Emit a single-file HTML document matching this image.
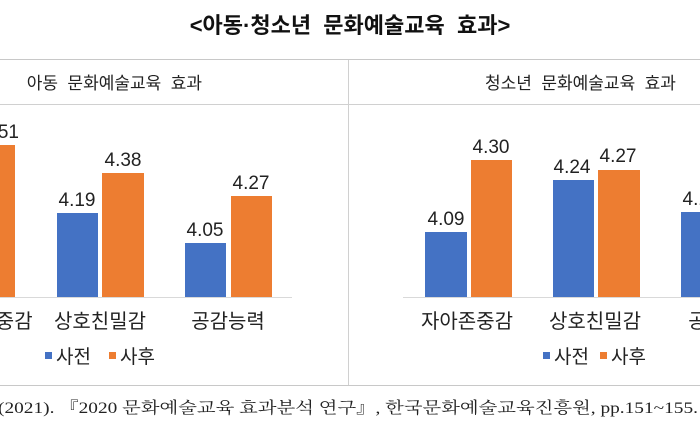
<!DOCTYPE html>
<html><head><meta charset="utf-8"><style>
html,body{margin:0;padding:0;background:#fff;}
svg{display:block;font-family:"Liberation Sans","Noto Sans CJK KR",sans-serif;}
</style></head><body>
<svg width="700" height="440" viewBox="0 0 700 440" xmlns="http://www.w3.org/2000/svg">
<rect width="700" height="440" fill="#fff"/>
<text x="350" y="33" text-anchor="middle" font-size="22" font-weight="bold" fill="#111" xml:space="preserve">&lt;아동·청소년  문화예술교육  효과&gt;</text>
<line x1="0" y1="59.5" x2="700" y2="59.5" stroke="#c8c8c8" stroke-width="1"/>
<line x1="0" y1="385.5" x2="700" y2="385.5" stroke="#c8c8c8" stroke-width="1"/>
<line x1="348.5" y1="60" x2="348.5" y2="385" stroke="#d0d0d0" stroke-width="1"/>
<line x1="0" y1="104.5" x2="348" y2="104.5" stroke="#d0d0d0"/>
<line x1="349" y1="104.5" x2="700" y2="104.5" stroke="#d0d0d0"/>
<!-- left panel -->
<text x="202" y="89" text-anchor="end" font-size="17" fill="#222" xml:space="preserve">아동  문화예술교육  효과</text>
<line x1="0" y1="297.5" x2="292" y2="297.5" stroke="#d9d9d9"/>
<rect x="0" y="145" width="15" height="152" fill="#ED7D31"/>
<text x="-18" y="138" font-size="19" fill="#222">4.51</text>
<rect x="57" y="213" width="41" height="84" fill="#4472C4"/>
<rect x="102" y="173" width="42" height="124" fill="#ED7D31"/>
<rect x="185" y="243" width="41" height="54" fill="#4472C4"/>
<rect x="231" y="196" width="41" height="101" fill="#ED7D31"/>
<g font-size="19" fill="#222" text-anchor="middle">
<text x="77" y="206">4.19</text><text x="123" y="166">4.38</text>
<text x="205" y="236">4.05</text><text x="251" y="189">4.27</text>
</g>
<g font-size="20" fill="#222" text-anchor="middle">
<text x="5" y="328">존중감</text>
<text x="100" y="328">상호친밀감</text>
<text x="228" y="328">공감능력</text>
</g>
<rect x="45" y="352" width="7" height="7" fill="#4472C4"/>
<text x="56" y="363" font-size="19" fill="#222">사전</text>
<rect x="109" y="352" width="7" height="7" fill="#ED7D31"/>
<text x="120" y="363" font-size="19" fill="#222">사후</text>
<!-- right panel -->
<text x="485" y="89" font-size="17" fill="#222" xml:space="preserve">청소년  문화예술교육  효과</text>
<line x1="403" y1="297.5" x2="700" y2="297.5" stroke="#d9d9d9"/>
<rect x="425" y="232" width="42" height="65" fill="#4472C4"/>
<rect x="471" y="160" width="41" height="137" fill="#ED7D31"/>
<rect x="553" y="180" width="41" height="117" fill="#4472C4"/>
<rect x="598" y="170" width="42" height="127" fill="#ED7D31"/>
<rect x="681" y="212" width="41" height="85" fill="#4472C4"/>
<g font-size="19" fill="#222" text-anchor="middle">
<text x="446" y="225">4.09</text><text x="491" y="153">4.30</text>
<text x="572" y="173">4.24</text><text x="618" y="162">4.27</text>
<text x="701" y="205">4.15</text>
</g>
<g font-size="20" fill="#222" text-anchor="middle">
<text x="467" y="328">자아존중감</text>
<text x="595" y="328">상호친밀감</text>
<text x="725" y="328">공감능력</text>
</g>
<rect x="543" y="352" width="7" height="7" fill="#4472C4"/>
<text x="554" y="363" font-size="19" fill="#222">사전</text>
<rect x="600" y="352" width="7" height="7" fill="#ED7D31"/>
<text x="611" y="363" font-size="19" fill="#222">사후</text>
<!-- footer -->
<text x="-2" y="413" font-size="16" fill="#222" font-family="'Liberation Serif','Noto Serif CJK SC',serif" textLength="700" lengthAdjust="spacingAndGlyphs">(2021). 『2020 문화예술교육 효과분석 연구』, 한국문화예술교육진흥원, pp.151~155.</text>
</svg>
</body></html>
